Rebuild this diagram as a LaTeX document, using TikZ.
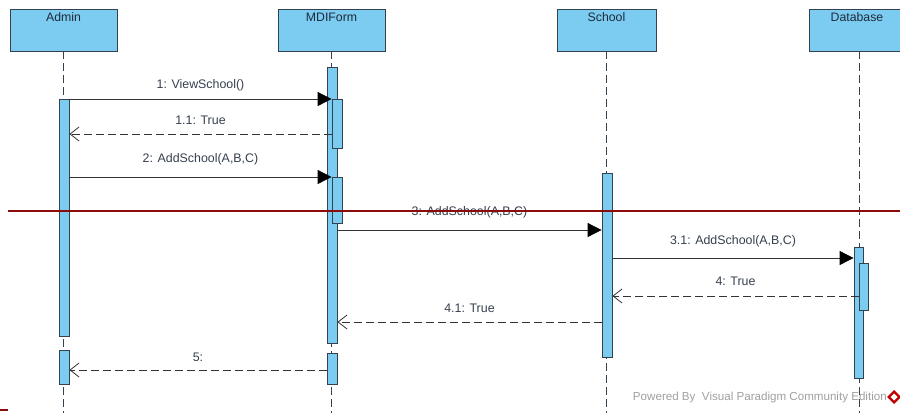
\documentclass[tikz,border=0pt]{standalone}
\usepackage{fontspec}
\setmainfont{Liberation Sans}
\usetikzlibrary{arrows.meta}
\definecolor{boxfill}{HTML}{7CCCF2}
\definecolor{boxline}{HTML}{34414F}
\definecolor{txt}{HTML}{1E2A3A}
\definecolor{darkred}{HTML}{8B0A0A}
\definecolor{lnc}{HTML}{333333}
\tikzset{
  head/.style={draw=boxline, fill=boxfill, line width=0.9pt, minimum width=107pt, minimum height=42pt, inner sep=0pt},
  headtxt/.style={text=txt, font=\fontsize{12.3}{14}\selectfont, anchor=north, inner sep=0pt},
  bar/.style={draw=boxline, fill=boxfill, line width=0.8pt, minimum width=10pt, inner sep=0pt},
  life/.style={draw=boxline, line width=0.8pt, dash pattern=on 8pt off 4pt},
  call/.style={draw=lnc, line width=0.8pt, -{Triangle[length=14pt,width=14pt,fill=black,color=black]}},
  ret/.style={draw=lnc, line width=0.8pt, dash pattern=on 8pt off 4pt, -{Straight Barb[length=9pt,width=14pt,line width=0.8pt]}},
  msg/.style={text=txt!90, font=\fontsize{12.4}{14}\selectfont, inner sep=0pt},
}
\begin{document}
\begin{tikzpicture}[x=1pt,y=-1pt]
\useasboundingbox (0,0) rectangle (900,413);
\clip (0,0) rectangle (900,413);
% headers
\node[head] (admin) at (63.5,30) {};
\node[head] (mdi) at (331.5,30) {};
\node[head, minimum width=99pt] (school) at (606.5,30) {};
\node[head, minimum width=104pt] (db) at (861,30) {};
\node[headtxt] (adminT) at (63.5,12.5) {Admin};
\node[headtxt] (mdiT) at (331.5,12.5) {MDIForm};
\node[headtxt] (schoolT) at (606.5,12.5) {School};
\node[headtxt] (dbT) at (857,12.5) {Database};
% lifelines
\coordinate (bot) at (0,413);
\draw[life] (admin.south) -- (admin.south |- bot);
\draw[life] (mdi.south) -- (mdi.south |- bot);
\draw[life] (school.south) -- (school.south |- bot);
\draw[life] (dbT.south |- db.south) ++(2,0) -- ++(0,362);
% activation bars
\node[bar, minimum height=237pt] (a1) at (64,217.5) {};
\node[bar, minimum height=34pt] (a2) at (64,367) {};
\node[bar, minimum height=276pt] (m0) at (332,205) {};
\node[bar, minimum height=49pt] (m1) at (337,123.5) {};
\node[bar, minimum height=46pt] (m2) at (337,200) {};
\node[bar, minimum height=31pt] (m3) at (332,368.5) {};
\node[bar, minimum height=184pt] (s1) at (607,265) {};
\node[bar, minimum width=9pt, minimum height=131pt] (d1) at (858.5,312.5) {};
\node[bar, minimum width=9pt, minimum height=47pt] (d2) at (863.5,286.5) {};
% message y levels
\coordinate (y1) at (0,99);
\coordinate (y11) at (0,134);
\coordinate (y2) at (0,177);
\coordinate (y3) at (0,230);
\coordinate (y31) at (0,258);
\coordinate (y4) at (0,296);
\coordinate (y41) at (0,322);
\coordinate (y5) at (0,370);
% messages
\draw[call] (a1.east |- y1) -- (m1.west |- y1) node[msg, midway, above=8pt] (l1) {1: ViewSchool()};
\draw[ret] (m1.west |- y11) -- (a1.east |- y11) node[msg, midway, above=9pt] (l11) {1.1: True};
\draw[call] (a1.east |- y2) -- (m2.west |- y2) node[msg, midway, above=12pt] (l2) {2: AddSchool(A,B,C)};
\draw[call] (m0.east |- y3) -- (s1.west |- y3) node[msg, midway, above=12pt] (l3) {3: AddSchool(A,B,C)};
\draw[call] (s1.east |- y31) -- (d1.west |- y31) node[msg, midway, above=11pt] (l31) {3.1: AddSchool(A,B,C)};
\draw[ret] (d2.west |- y4) -- (s1.east |- y4) node[msg, midway, above=10pt] (l4) {4: True};
\draw[ret] (s1.west |- y41) -- (m0.east |- y41) node[msg, midway, above=9pt] (l41) {4.1: True};
\draw[ret] (m3.west |- y5) -- (a2.east |- y5) node[msg, midway, above=8pt] (l5) {5:};
% red overlay lines
\draw[darkred, line width=1.6pt] (8,211) -- (900,211);
\draw[darkred, line width=1.6pt] (0,410) -- (8,410);
% watermark
\node[text=gray!75, font=\fontsize{11.6}{13}\selectfont, anchor=east, inner sep=0pt] (wm) at (887,397) {Powered By\ \ Visual Paradigm Community Edition};
\fill[red!75!black] (894,390) -- (901,397) -- (894,404) -- (887,397) -- cycle;
\fill[white] (894,393.5) -- (897.5,397) -- (894,400.5) -- (890.5,397) -- cycle;
\end{tikzpicture}
\end{document}
